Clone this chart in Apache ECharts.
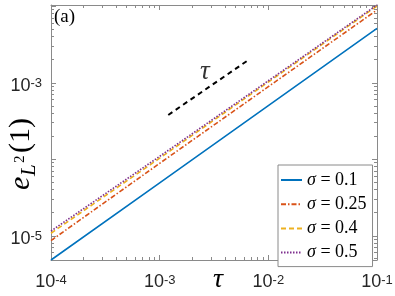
<!DOCTYPE html>
<html><head><meta charset="utf-8">
<script src="https://cdn.jsdelivr.net/npm/echarts@6/dist/echarts.min.js"></script>
<style>html,body{margin:0;padding:0;background:#fff}#c{width:395px;height:296px}</style>
</head><body><div id="c"></div>
<script>
// ---- data ----
const tau = [1e-4, 1e-3, 1e-2, 1e-1];
const sigmaNames = ['σ = 0.1', 'σ = 0.25', 'σ = 0.4', 'σ = 0.5'];
const errS01  = [4.85e-6, 4.95e-5, 5.05e-4, 5.19e-3];
const errS025 = [8.7e-6, 8.9e-5, 8.95e-4, 9.0e-3];
const errS04  = [1.085e-5, 1.04e-4, 1.03e-3, 1.015e-2];
const errS05  = [1.16e-5, 1.1e-4, 1.07e-3, 1.046e-2];
const refTau = [1.2e-3, 6.36e-3];
const refErr = [3.82e-4, 1.94e-3];
const refLabelAt = [2.6e-3, 1.38e-3];
const xRange = [1e-4, 1e-1];
const yRange = [4.85e-6, 1.046e-2];
const xLabelExps = [-4, -3, -2, -1];
const yLabelExps = [-5, -3];

const colors = ['#0072BD', '#D95319', '#EDB120', '#7E2F8E'];
const dashes = ['solid', [5, 2, 1.5, 2], [5, 3], [1.5, 1.5]];
const seriesVals = [errS01, errS025, errS04, errS05];

const AX = '#8a8a8a', TXT = '#262626';
const SANS = '"Liberation Sans", Arial, sans-serif';
const SERIF = '"Liberation Serif", "Times New Roman", serif';

function expFormatter(list) {
  return function (v) {
    const e = Math.log10(v), r = Math.round(e);
    if (Math.abs(e - r) > 1e-6 || list.indexOf(r) < 0) return '';
    return '{b|10}{s|-' + Math.abs(r) + '}';
  };
}
const labelRich = {
  b: { fontSize: 18, lineHeight: 18, fontFamily: SANS, color: TXT, verticalAlign: 'bottom', padding: [2.5, 0, 0, 0] },
  s: { fontSize: 13, lineHeight: 13, fontFamily: SANS, color: TXT, verticalAlign: 'top' }
};

const chart = echarts.init(document.getElementById('c'), null, { renderer: 'canvas' });

const series = seriesVals.map((vals, i) => ({
  type: 'line', name: sigmaNames[i],
  data: tau.map((t, j) => [t, vals[j]]),
  symbol: 'none', showSymbol: false,
  lineStyle: { color: colors[i], width: 1.6, type: dashes[i] },
  itemStyle: { color: colors[i] },
  z: 3 + i
}));
series.push({
  type: 'line', name: 'ref',
  data: refTau.map((t, j) => [t, refErr[j]]),
  symbol: 'none', showSymbol: false,
  lineStyle: { color: '#000', width: 2, type: [5, 4] },
  z: 2
});
series.push({
  type: 'scatter', name: 'refLabel',
  data: [refLabelAt], symbolSize: 1,
  itemStyle: { color: 'rgba(0,0,0,0)' },
  label: { show: true, position: 'inside', formatter: 'τ', fontSize: 27, fontStyle: 'italic', fontFamily: SERIF, color: '#000' },
  silent: true
});

function logAxis(pos, range, showLabels, exps, margin) {
  return {
    type: 'log', logBase: 10, min: range[0], max: range[1], position: pos,
    axisLine: { show: true, lineStyle: { color: AX, width: 1 } },
    axisTick: { show: true, inside: true, length: 5, lineStyle: { color: AX, width: 1 } },
    splitLine: { show: false },
    axisLabel: showLabels ? { show: true, margin: margin, formatter: expFormatter(exps), rich: labelRich,
      padding: pos === 'left' ? [6.5, 0, 0, 0] : 0 } : { show: false }
  };
}

chart.setOption({
  animation: false,
  backgroundColor: '#fff',
  grid: { left: 51, right: 18, top: 5, bottom: 36, containLabel: false, outerBoundsMode: 'none' },
  xAxis: [logAxis('bottom', xRange, true, xLabelExps, 13.5), logAxis('top', xRange, false)],
  yAxis: [logAxis('left', yRange, true, yLabelExps, 9), logAxis('right', yRange, false)],
  legend: {
    data: sigmaNames, orient: 'vertical', left: 278, top: 165,
    itemWidth: 21, itemHeight: 14, itemGap: 6.2,
    padding: [6, 6, 5, 2],
    borderColor: AX, borderWidth: 1, backgroundColor: '#fff',
    itemStyle: { opacity: 0 },
    formatter: n => '{i|σ}{t| = ' + n.split('= ')[1] + '}',
    textStyle: {
      color: '#000', fontFamily: SERIF, fontSize: 18,
      rich: { i: { fontStyle: 'italic', fontFamily: SERIF, fontSize: 18 }, t: { fontFamily: SERIF, fontSize: 18 } }
    },
    selectedMode: false
  },
  series: series
});

// minor ticks (log 2..9) computed through the axis scales
function minorVals(lo, hi) {
  const out = [];
  for (let d = Math.floor(Math.log10(lo)); d <= Math.ceil(Math.log10(hi)); d++) {
    for (let k = 2; k <= 9; k++) { const v = k * Math.pow(10, d); if (v > lo && v < hi) out.push(v); }
  }
  return out;
}
const xl = chart.convertToPixel({ xAxisIndex: 0 }, xRange[0]);
const xr = chart.convertToPixel({ xAxisIndex: 0 }, xRange[1]);
const yb = chart.convertToPixel({ yAxisIndex: 0 }, yRange[0]);
const yt = chart.convertToPixel({ yAxisIndex: 0 }, yRange[1]);
const els = [];
const snap = p => Math.round(p - 0.5) + 0.5;
minorVals(xRange[0], xRange[1]).forEach(v => {
  const px = snap(chart.convertToPixel({ xAxisIndex: 0 }, v));
  els.push({ type: 'line', silent: true, shape: { x1: px, y1: yb, x2: px, y2: yb - 3 }, style: { stroke: AX, lineWidth: 1 } });
  els.push({ type: 'line', silent: true, shape: { x1: px, y1: yt, x2: px, y2: yt + 3 }, style: { stroke: AX, lineWidth: 1 } });
});
minorVals(yRange[0], yRange[1]).forEach(v => {
  const py = snap(chart.convertToPixel({ yAxisIndex: 0 }, v));
  els.push({ type: 'line', silent: true, shape: { x1: xl, y1: py, x2: xl + 3, y2: py }, style: { stroke: AX, lineWidth: 1 } });
  els.push({ type: 'line', silent: true, shape: { x1: xr, y1: py, x2: xr - 3, y2: py }, style: { stroke: AX, lineWidth: 1 } });
});
// texts
els.push({ type: 'text', silent: true, left: 54, top: 8, style: { text: '(a)', font: '19px ' + SERIF, fill: '#000' } });
els.push({ type: 'text', silent: true, x: 218, y: 280, style: { text: 'τ', font: 'italic 28px ' + SERIF, fill: '#000', align: 'center', verticalAlign: 'middle' } });
// y-axis title e_{L^2}(1), rotated; local x = reading direction, local +y = glyph "down"
const F = 30, FS = 21, FSS = 15;
function t(txt, x, baseY, size, italic) {
  return { type: 'text', silent: true, x: x, y: baseY - 0.34 * size,
    style: { text: txt, font: (italic ? 'italic ' : '') + size + 'px ' + SERIF, fill: '#000', align: 'left', verticalAlign: 'middle' } };
}
els.push({
  type: 'group', x: 31, y: 190, rotation: Math.PI / 2, silent: true,
  children: [
    t('e', 0, 0, F, true),
    t('L', 14, 6, FS, true),
    t('2', 27, -6, FSS, false),
    t('(1)', 37, 0, F, false)
  ]
});
chart.setOption({ graphic: { elements: els } });
</script></body></html>
